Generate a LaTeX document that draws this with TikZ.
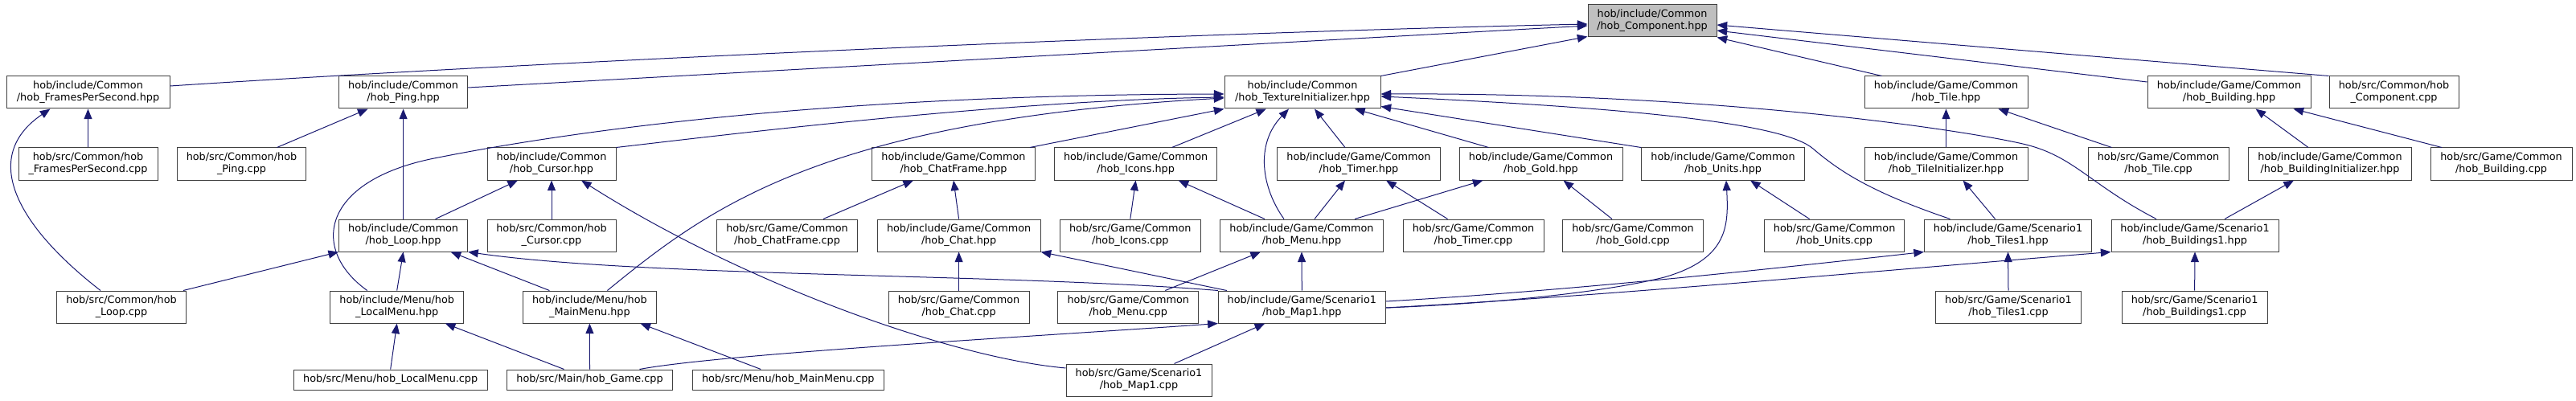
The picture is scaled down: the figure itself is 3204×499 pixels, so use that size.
\documentclass[tikz,border=0pt]{standalone}
\usepackage{fontspec}
\setmainfont{DejaVu Sans}
\usetikzlibrary{arrows.meta,calc}
\definecolor{edgeblue}{HTML}{191970}
\definecolor{boxline}{HTML}{404040}
\tikzset{f/.style={draw=boxline,fill=white,line width=0.75pt,inner sep=0pt,minimum height=30pt,align=center},
 root/.style={f,fill=black!25},one/.style={minimum height=18.75pt},wd/.style={minimum width=#1*0.75pt},
 dep/.style={-{Triangle[length=9.5pt,width=7.5pt]},color=edgeblue,line width=0.75pt}}
\begin{document}
\begin{tikzpicture}[x=0.75pt,y=-0.75pt,font=\fontsize{9.6}{11.25}\selectfont]
\useasboundingbox (0,0) rectangle (3204,499);
\node[root,wd=160](comp) at (2055,26){hob/include/Common\\/hob\_Component.hpp};
\node[f,wd=203](fps) at (109.5,115){hob/include/Common\\/hob\_FramesPerSecond.hpp};
\node[f,wd=160](ping) at (501.6,115){hob/include/Common\\/hob\_Ping.hpp};
\node[f,wd=194](tex) at (1620,115){hob/include/Common\\/hob\_TextureInitializer.hpp};
\node[f,wd=203](tile) at (2420.5,115){hob/include/Game/Common\\/hob\_Tile.hpp};
\node[f,wd=203](bld) at (2772.5,115){hob/include/Game/Common\\/hob\_Building.hpp};
\node[f,wd=161](compcpp) at (2977.5,115){hob/src/Common/hob\\\_Component.cpp};
\node[f,wd=173](fpscpp) at (109.5,204){hob/src/Common/hob\\\_FramesPerSecond.cpp};
\node[f,wd=160](pingcpp) at (300.5,204){hob/src/Common/hob\\\_Ping.cpp};
\node[f,wd=160](cur) at (686,204){hob/include/Common\\/hob\_Cursor.hpp};
\node[f,wd=203](chfr) at (1186,204){hob/include/Game/Common\\/hob\_ChatFrame.hpp};
\node[f,wd=202.5](icons) at (1412.6,204){hob/include/Game/Common\\/hob\_Icons.hpp};
\node[f,wd=203](timer) at (1690,204){hob/include/Game/Common\\/hob\_Timer.hpp};
\node[f,wd=203](gold) at (1916.5,204){hob/include/Game/Common\\/hob\_Gold.hpp};
\node[f,wd=203](units) at (2143,204){hob/include/Game/Common\\/hob\_Units.hpp};
\node[f,wd=203](tinit) at (2420.5,204){hob/include/Game/Common\\/hob\_TileInitializer.hpp};
\node[f,wd=175](tilecpp) at (2684.5,204){hob/src/Game/Common\\/hob\_Tile.cpp};
\node[f,wd=203](binit) at (2898,204){hob/include/Game/Common\\/hob\_BuildingInitializer.hpp};
\node[f,wd=176](bldcpp) at (3111,204){hob/src/Game/Common\\/hob\_Building.cpp};
\node[f,wd=160](loop) at (501.6,293){hob/include/Common\\/hob\_Loop.hpp};
\node[f,wd=160](curcpp) at (686,293){hob/src/Common/hob\\\_Cursor.cpp};
\node[f,wd=175](chfrcpp) at (979,293){hob/src/Game/Common\\/hob\_ChatFrame.cpp};
\node[f,wd=203](chat) at (1192.6,293){hob/include/Game/Common\\/hob\_Chat.hpp};
\node[f,wd=175](iconscpp) at (1405.8,293){hob/src/Game/Common\\/hob\_Icons.cpp};
\node[f,wd=203.6](menu) at (1619,293){hob/include/Game/Common\\/hob\_Menu.hpp};
\node[f,wd=175](timercpp) at (1832.5,293){hob/src/Game/Common\\/hob\_Timer.cpp};
\node[f,wd=175](goldcpp) at (2031,293){hob/src/Game/Common\\/hob\_Gold.cpp};
\node[f,wd=174](unitscpp) at (2281.6,293){hob/src/Game/Common\\/hob\_Units.cpp};
\node[f,wd=208](tiles) at (2497.5,293){hob/include/Game/Scenario1\\/hob\_Tiles1.hpp};
\node[f,wd=208](blds) at (2730,293){hob/include/Game/Scenario1\\/hob\_Buildings1.hpp};
\node[f,wd=161](loopcpp) at (151,382){hob/src/Common/hob\\\_Loop.cpp};
\node[f,wd=165.7](lmenu) at (493.7,382){hob/include/Menu/hob\\\_LocalMenu.hpp};
\node[f,wd=165.7](mmenu) at (733.4,382){hob/include/Menu/hob\\\_MainMenu.hpp};
\node[f,wd=175](chatcpp) at (1192.6,382){hob/src/Game/Common\\/hob\_Chat.cpp};
\node[f,wd=174.7](menucpp) at (1403.3,382){hob/src/Game/Common\\/hob\_Menu.cpp};
\node[f,wd=208](map) at (1619.3,382){hob/include/Game/Scenario1\\/hob\_Map1.hpp};
\node[f,wd=181](tilescpp) at (2498,382){hob/src/Game/Scenario1\\/hob\_Tiles1.cpp};
\node[f,wd=181](bldscpp) at (2729.6,382){hob/src/Game/Scenario1\\/hob\_Buildings1.cpp};
\node[f,one,wd=241](lmenucpp) at (485.7,472.5){hob/src/Menu/hob\_LocalMenu.cpp};
\node[f,one,wd=206.6](game) at (733.5,472.5){hob/src/Main/hob\_Game.cpp};
\node[f,one,wd=238.6](mmenucpp) at (980.3,472.5){hob/src/Menu/hob\_MainMenu.cpp};
\node[f,wd=181](mapcpp) at (1416.5,473){hob/src/Game/Scenario1\\/hob\_Map1.cpp};
\draw[dep]($(fps.east)+(0,-8)$) .. controls (700,75) and (1500,40) .. ($(comp.west)+(0,4)$);
\draw[dep]($(ping.east)+(0,-6)$) -- ($(comp.west)+(0,6)$);
\draw[dep](tex.north east) -- ($(comp.south west)+(0,-1)$);
\draw[dep]($(tile.north)+(-80,0)$) -- (comp.south east);
\draw[dep]($(bld.west)+(0,-13)$) -- ($(comp.east)+(0,12)$);
\draw[dep](compcpp.north west) -- ($(comp.east)+(0,5)$);
\draw[dep](fpscpp.north) -- (fps.south);
\draw[dep]($(loopcpp.north)+(-26,0)$) .. controls (20,280) and (-25,195) .. ($(fps.south west)+(55,0)$);
\draw[dep]($(pingcpp.north)+(44,0)$) -- ($(ping.south)+(-44,0)$);
\draw[dep](loop.north) -- (ping.south);
\draw[dep](cur.north east) .. controls (900,168) and (1250,125) .. ($(tex.west)+(0,6)$);
\draw[dep]($(lmenu.north)+(-37,0)$) .. controls (385,310) and (400,225) .. (540,197) .. controls (680,169) and (1000,118) .. ($(tex.west)+(0,2)$);
\draw[dep]($(mmenu.north)+(22,0)$) .. controls (880,260) and (1020,150) .. ($(tex.west)+(0,7)$);
\draw[dep]($(chfr.north east)+(-7,0)$) -- (tex.south west);
\draw[dep]($(icons.north)+(45,0)$) -- ($(tex.south)+(-45,0)$);
\draw[dep]($(menu.north)+(-22,0)$) .. controls (1570,235) and (1560,180) .. ($(tex.south)+(-17,0)$);
\draw[dep]($(timer.north)+(-17,0)$) -- ($(tex.south)+(15,0)$);
\draw[dep]($(gold.north)+(-65,0)$) -- ($(tex.south)+(65,0)$);
\draw[dep](units.north west) -- ($(tex.south east)+(0,-3)$);
\draw[dep]($(tiles.north)+(-72,0)$) .. controls (2330,240) and (2290,215) .. (2255,185) .. controls (2220,155) and (2050,135) .. ($(tex.east)+(0,5)$);
\draw[dep]($(blds.north)+(-48,0)$) .. controls (2600,230) and (2580,195) .. (2520,180) .. controls (2460,165) and (2150,115) .. ($(tex.east)+(0,2)$);
\draw[dep]($(chfrcpp.north)+(45,0)$) -- ($(chfr.south)+(-50,0)$);
\draw[dep](chat.north) -- (chfr.south);
\draw[dep](iconscpp.north) -- (icons.south);
\draw[dep]($(menu.north)+(-46,0)$) -- ($(icons.south)+(53,0)$);
\draw[dep]($(menu.north)+(16,0)$) -- ($(timer.south)+(-17,0)$);
\draw[dep]($(timercpp.north)+(-32,0)$) -- ($(timer.south)+(34,0)$);
\draw[dep]($(menu.north)+(66,0)$) -- ($(gold.south)+(-72,0)$);
\draw[dep]($(goldcpp.north)+(-26,0)$) -- ($(gold.south)+(28,0)$);
\draw[dep]($(unitscpp.north)+(-31,0)$) -- ($(units.south)+(34,0)$);
\draw[dep]($(map.east)+(0,1)$) .. controls (1850,378) and (1990,365) .. (2070,345) .. controls (2150,322) and (2150,280) .. ($(units.south)+(4,0)$);
\draw[dep]($(tiles.north)+(-16,0)$) -- ($(tinit.south)+(21,0)$);
\draw[dep](tinit.north) -- (tile.south);
\draw[dep]($(tilecpp.north)+(-58,0)$) -- ($(tile.south)+(65,0)$);
\draw[dep]($(binit.north)+(-27,0)$) -- ($(bld.south)+(33,0)$);
\draw[dep]($(bldcpp.north)+(-74,0)$) -- ($(bld.south)+(80,0)$);
\draw[dep]($(blds.north)+(37,0)$) -- ($(binit.south)+(-45,0)$);
\draw[dep](bldscpp.north) -- (blds.south);
\draw[dep](tilescpp.north) -- (tiles.south);
\draw[dep]($(map.east)+(0,-7)$) .. controls (1950,362) and (2200,335) .. (tiles.south west);
\draw[dep]($(map.east)+(0,1)$) .. controls (2000,368) and (2300,340) .. (blds.south west);
\draw[dep](map.north) -- (menu.south);
\draw[dep]($(menucpp.north)+(46,0)$) -- ($(menu.south)+(-51,0)$);
\draw[dep]($(map.north west)+(11,0)$) -- (chat.south east);
\draw[dep](chatcpp.north) -- (chat.south);
\draw[dep](map.north west) .. controls (1250,340) and (800,345) .. (loop.south east);
\draw[dep]($(game.north)+(62,0)$) .. controls (900,440) and (1300,418) .. (map.south west);
\draw[dep]($(mapcpp.north)+(44,0)$) -- ($(map.south)+(-46,0)$);
\draw[dep]($(mapcpp.west)+(0,-15)$) .. controls (1180,445) and (920,350) .. ($(cur.south)+(37,0)$);
\draw[dep]($(loop.north)+(40,0)$) -- ($(cur.south)+(-42,0)$);
\draw[dep](curcpp.north) -- (cur.south);
\draw[dep]($(loopcpp.north east)+(-4,0)$) -- (loop.south west);
\draw[dep](lmenu.north) -- (loop.south);
\draw[dep]($(mmenu.north)+(-50,0)$) -- ($(loop.south)+(59,0)$);
\draw[dep](lmenucpp.north) -- (lmenu.south);
\draw[dep]($(game.north)+(-32,0)$) -- ($(lmenu.south)+(60,0)$);
\draw[dep](game.north) -- (mmenu.south);
\draw[dep]($(mmenucpp.north)+(-34,0)$) -- ($(mmenu.south)+(63,0)$);
\end{tikzpicture}
\end{document}
